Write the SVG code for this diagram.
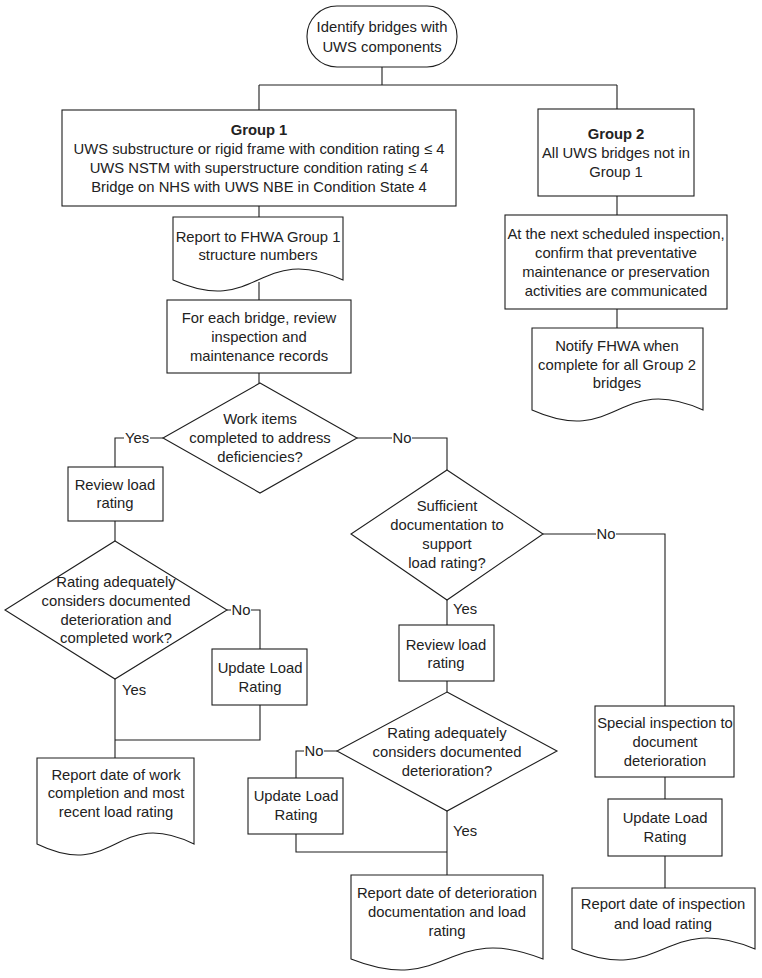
<svg xmlns="http://www.w3.org/2000/svg" width="762" height="978" viewBox="0 0 762 978">
<style>
.s{fill:#fff;stroke:#1e1e1e;stroke-width:1.1}
.c{fill:none;stroke:#1e1e1e;stroke-width:1.1}
text{font-family:"Liberation Sans",Arial,sans-serif;font-size:14.8px;fill:#222;text-anchor:middle}
.b{font-weight:bold}
.l{text-anchor:start}
</style>
<rect width="762" height="978" fill="#fff"/>
<g id="connectors">
<path class="c" d="M382,67V85M259,85H617M259,85V110M617,85V109"/>
<path class="c" d="M259,206V217M259,282V300M259,373V383"/>
<path class="c" d="M617,196V215M617,309V328"/>
<path class="c" d="M163,438H150M124,438H115V467"/>
<path class="c" d="M357,438H392M412,438H447V470"/>
<path class="c" d="M115,521V541"/>
<path class="c" d="M227,610H231M251,610H260V649"/>
<path class="c" d="M260,705V740H115"/>
<path class="c" d="M115,679V758"/>
<path class="c" d="M447,600V625M447,681V692"/>
<path class="c" d="M337,751H324M304,751H296V778"/>
<path class="c" d="M296,834V852H447"/>
<path class="c" d="M447,811V875"/>
<path class="c" d="M543,534H596M616,534H665V706"/>
<path class="c" d="M665,777V799M665,856V888"/>
<text x="137" y="443">Yes</text>
<text x="402" y="443">No</text>
<text x="606" y="539">No</text>
<text x="453" y="614" class="l">Yes</text>
<text x="241" y="615">No</text>
<text x="122" y="695" class="l">Yes</text>
<text x="314" y="756">No</text>
<text x="453" y="836" class="l">Yes</text>
</g>
<g id="start">
<rect class="s" x="307" y="6" width="150" height="61" rx="30"/>
<text x="382" y="32">Identify bridges with</text>
<text x="382" y="52">UWS components</text>
</g>
<g id="group1">
<rect class="s" x="62" y="110" width="394" height="96"/>
<text x="259" y="135" class="b">Group 1</text>
<text x="259" y="154">UWS substructure or rigid frame with condition rating ≤ 4</text>
<text x="259" y="173">UWS NSTM with superstructure condition rating ≤ 4</text>
<text x="259" y="192">Bridge on NHS with UWS NBE in Condition State 4</text>
</g>
<g id="group2">
<rect class="s" x="538" y="109" width="156" height="87"/>
<text x="616" y="139" class="b">Group 2</text>
<text x="616" y="158">All UWS bridges not in</text>
<text x="616" y="177">Group 1</text>
</g>
<g id="nextInspection">
<rect class="s" x="505" y="215" width="222" height="94"/>
<text x="616" y="239">At the next scheduled inspection,</text>
<text x="616" y="258">confirm that preventative</text>
<text x="616" y="277">maintenance or preservation</text>
<text x="616" y="296">activities are communicated</text>
</g>
<g id="notifyFHWA">
<path class="s" d="M532,328H703V410C617.5,372 617.5,448 532,410Z"/>
<text x="617" y="351">Notify FHWA when</text>
<text x="617" y="370">complete for all Group 2</text>
<text x="617" y="388">bridges</text>
</g>
<g id="reportGroup1">
<path class="s" d="M173,217H343V280C258,242 258,318 173,280Z"/>
<text x="258" y="242">Report to FHWA Group 1</text>
<text x="258" y="260">structure numbers</text>
</g>
<g id="reviewRecords">
<rect class="s" x="167" y="300" width="184" height="73"/>
<text x="259" y="323">For each bridge, review</text>
<text x="259" y="342">inspection and</text>
<text x="259" y="361">maintenance records</text>
</g>
<g id="workItems">
<path class="s" d="M260,383L357,438L260,493L163,438Z"/>
<text x="260" y="424">Work items</text>
<text x="260" y="443">completed to address</text>
<text x="260" y="462">deficiencies?</text>
</g>
<g id="reviewLoad1">
<rect class="s" x="68" y="467" width="95" height="54"/>
<text x="115" y="490">Review load</text>
<text x="115" y="508">rating</text>
</g>
<g id="ratingAdequate1">
<path class="s" d="M115,541L227,610L115,679L5,610Z"/>
<text x="116" y="587">Rating adequately</text>
<text x="116" y="606">considers documented</text>
<text x="116" y="625">deterioration and</text>
<text x="116" y="643">completed work?</text>
</g>
<g id="updateLoad1">
<rect class="s" x="212" y="649" width="95" height="56"/>
<text x="260" y="673">Update Load</text>
<text x="260" y="692">Rating</text>
</g>
<g id="reportWork">
<path class="s" d="M37,758H194V844C115.5,806 115.5,882 37,844Z"/>
<text x="116" y="780">Report date of work</text>
<text x="116" y="798">completion and most</text>
<text x="116" y="817">recent load rating</text>
</g>
<g id="sufficientDoc">
<path class="s" d="M447,470L543,534L447,600L351,534Z"/>
<text x="447" y="511">Sufficient</text>
<text x="447" y="530">documentation to</text>
<text x="447" y="549">support</text>
<text x="447" y="568">load rating?</text>
</g>
<g id="reviewLoad2">
<rect class="s" x="399" y="625" width="95" height="56"/>
<text x="446" y="650">Review load</text>
<text x="446" y="668">rating</text>
</g>
<g id="ratingAdequate2">
<path class="s" d="M447,692L557,751L447,811L337,751Z"/>
<text x="447" y="738">Rating adequately</text>
<text x="447" y="757">considers documented</text>
<text x="447" y="776">deterioration?</text>
</g>
<g id="updateLoad2">
<rect class="s" x="248" y="778" width="95" height="56"/>
<text x="296" y="801">Update Load</text>
<text x="296" y="820">Rating</text>
</g>
<g id="reportDeterioration">
<path class="s" d="M351,875H543V959C447,921 447,997 351,959Z"/>
<text x="447" y="898">Report date of deterioration</text>
<text x="447" y="917">documentation and load</text>
<text x="447" y="936">rating</text>
</g>
<g id="specialInspection">
<rect class="s" x="595" y="706" width="139" height="71"/>
<text x="665" y="728">Special inspection to</text>
<text x="665" y="747">document</text>
<text x="665" y="766">deterioration</text>
</g>
<g id="updateLoad3">
<rect class="s" x="608" y="799" width="114" height="57"/>
<text x="665" y="823">Update Load</text>
<text x="665" y="842">Rating</text>
</g>
<g id="reportInspection">
<path class="s" d="M572,888H755V949C663.5,911 663.5,987 572,949Z"/>
<text x="663" y="909">Report date of inspection</text>
<text x="663" y="929">and load rating</text>
</g>
</svg>
